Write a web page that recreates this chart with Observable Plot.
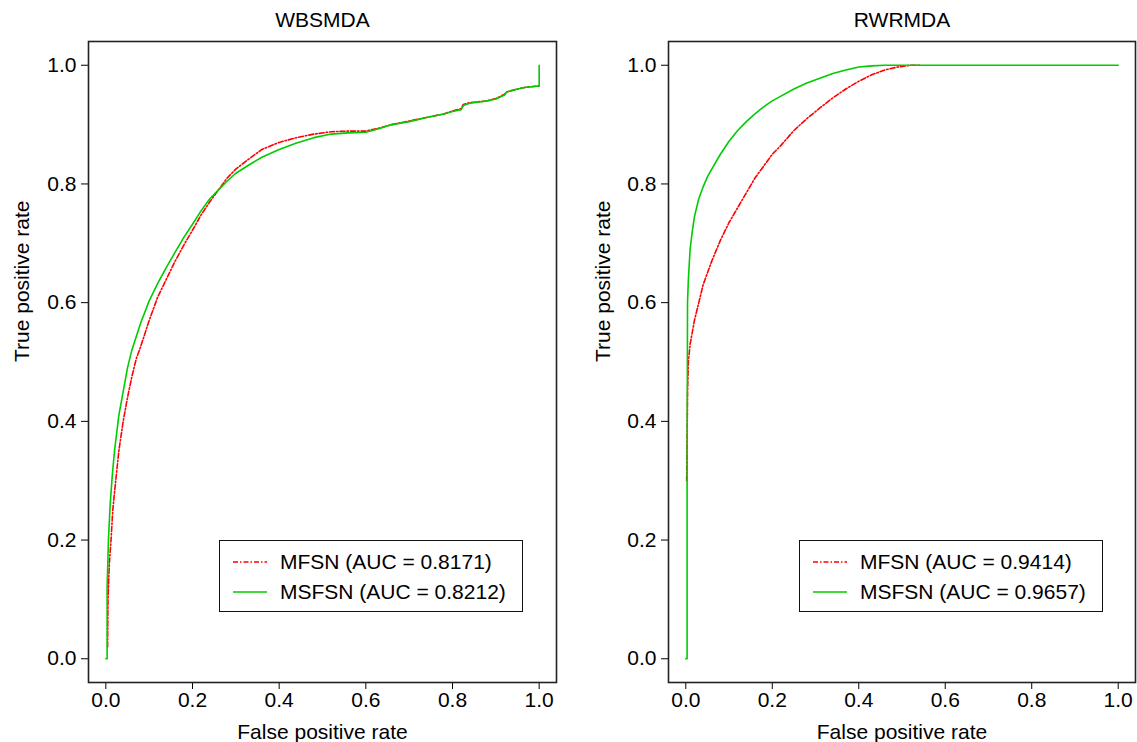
<!DOCTYPE html>
<html><head><meta charset="utf-8">
<script src="https://cdn.jsdelivr.net/npm/d3@7"></script>
<script src="https://cdn.jsdelivr.net/npm/@observablehq/plot@0.6"></script>
<style>
body{margin:0;background:#fff;font-family:"Liberation Sans",Arial,sans-serif}
#wrap{position:relative;width:1137px;height:742px;display:flex;overflow:hidden}
.legend{position:absolute;box-sizing:border-box;border:1.5px solid #111;background:#fff;font-size:21px;color:#000}
.legend .row{position:absolute;left:0;height:30px;line-height:30px;white-space:nowrap}
.legend svg{position:absolute;left:12px;top:0}
.legend span{position:absolute;left:60px;top:0}
</style></head><body><div id="wrap"></div><script>
// ---------- data ----------
const panelTitles = ["WBSMDA", "RWRMDA"];
const seriesNames = ["MFSN", "MSFSN"];
const aucWB = [0.8171, 0.8212];
const aucRWR = [0.9414, 0.9657];
const xTicks = [0, 0.2, 0.4, 0.6, 0.8, 1.0];
const yTicks = [0, 0.2, 0.4, 0.6, 0.8, 1.0];

// WBSMDA, MFSN
const wbFprMFSN = [0.004,0.005,0.008,0.012,0.016,0.02,0.03,0.04,0.05,0.06,0.07,0.08,0.1,0.12,0.14,0.16,0.18,0.2,0.22,0.24,0.26,0.28,0.3,0.33,0.36,0.4,0.44,0.48,0.52,0.56,0.6,0.63,0.66,0.7,0.74,0.78,0.8,0.82,0.825,0.84,0.88,0.9,0.92,0.925,0.95,0.97,0.998,1];
const wbTprMFSN = [0.02,0.1,0.16,0.2,0.25,0.28,0.35,0.4,0.44,0.475,0.505,0.525,0.57,0.61,0.64,0.67,0.697,0.722,0.748,0.77,0.79,0.81,0.825,0.842,0.858,0.87,0.878,0.884,0.888,0.889,0.889,0.894,0.9,0.906,0.912,0.918,0.923,0.927,0.934,0.937,0.94,0.944,0.951,0.955,0.96,0.963,0.965,0.965];
// WBSMDA, MSFSN
const wbFprMSFSN = [0,0.003,0.003,0.006,0.01,0.015,0.02,0.03,0.04,0.05,0.06,0.08,0.1,0.12,0.14,0.16,0.18,0.2,0.22,0.24,0.26,0.28,0.3,0.33,0.36,0.4,0.44,0.48,0.52,0.56,0.6,0.63,0.66,0.7,0.74,0.78,0.8,0.82,0.825,0.84,0.88,0.9,0.92,0.925,0.95,0.97,0.998,1,1];
const wbTprMSFSN = [0,0,0.12,0.2,0.26,0.31,0.35,0.41,0.45,0.49,0.52,0.565,0.603,0.633,0.66,0.685,0.71,0.732,0.755,0.775,0.79,0.805,0.818,0.832,0.845,0.858,0.869,0.878,0.884,0.886,0.887,0.893,0.9,0.905,0.912,0.918,0.922,0.925,0.932,0.936,0.94,0.943,0.95,0.955,0.96,0.963,0.965,0.965,1];
// RWRMDA, MFSN
const rwFprMFSN = [0.002,0.003,0.004,0.006,0.01,0.015,0.02,0.03,0.04,0.05,0.06,0.08,0.1,0.12,0.14,0.16,0.18,0.2,0.22,0.25,0.28,0.31,0.34,0.37,0.4,0.43,0.46,0.49,0.52,0.54];
const rwTprMFSN = [0.3,0.37,0.45,0.5,0.53,0.55,0.57,0.6,0.63,0.65,0.67,0.705,0.735,0.76,0.785,0.81,0.83,0.85,0.865,0.89,0.91,0.928,0.945,0.96,0.973,0.984,0.992,0.997,1,1];
// RWRMDA, MSFSN
const rwFprMSFSN = [0,0.003,0.003,0.004,0.006,0.01,0.015,0.02,0.03,0.04,0.05,0.06,0.08,0.1,0.12,0.14,0.16,0.18,0.2,0.22,0.25,0.28,0.31,0.34,0.37,0.4,0.43,0.46,1];
const rwTprMSFSN = [0,0,0.3,0.6,0.64,0.69,0.72,0.745,0.775,0.795,0.812,0.825,0.85,0.872,0.89,0.905,0.918,0.93,0.94,0.948,0.96,0.97,0.978,0.986,0.992,0.997,0.999,1,1];

const colors = ["#FF0000", "#00CC00"];
const dashes = ["5,2,1.5,2", null];

// ---------- drawing ----------
const font = '"Liberation Sans", Arial, sans-serif';
const FS = 21;
const wrap = document.getElementById("wrap");

function toRows(xs, ys) { return xs.map((x, i) => ({x, y: ys[i]})); }

function panel({title, series, width, marginLeft, marginRight, yLabelDx}) {
  const marks = [
    Plot.axisX({ticks: xTicks, tickFormat: d3.format(".1f"), tickSize: 7, tickPadding: 3, label: null, fontSize: FS}),
    Plot.axisY({ticks: yTicks, tickFormat: d3.format(".1f"), tickSize: 7, tickPadding: 5, label: null, fontSize: FS}),
  ];
  series.forEach((s, i) => {
    marks.push(Plot.line(s, {x: "x", y: "y", stroke: colors[i], strokeWidth: 1.6,
      strokeDasharray: dashes[i] || undefined}));
  });
  marks.push(Plot.frame({stroke: "#222", strokeWidth: 1.6}));
  marks.push(Plot.text([title], {frameAnchor: "top", lineAnchor: "middle", dy: -21, fontSize: FS}));
  marks.push(Plot.text(["False positive rate"], {frameAnchor: "bottom", lineAnchor: "middle", dy: 50, fontSize: FS}));
  marks.push(Plot.text(["True positive rate"], {frameAnchor: "left", dx: yLabelDx, rotate: -90, fontSize: FS}));
  return Plot.plot({
    width, height: 742, marginLeft, marginRight, marginTop: 41, marginBottom: 60,
    style: {fontFamily: font, fontSize: FS + "px", color: "#000", background: "#fff", overflow: "visible"},
    x: {domain: [-0.04, 1.04]},
    y: {domain: [-0.04, 1.04]},
    marks
  });
}

const p1 = panel({
  title: panelTitles[0],
  series: [toRows(wbFprMFSN, wbTprMFSN), toRows(wbFprMSFSN, wbTprMSFSN)],
  width: 568, marginLeft: 88, marginRight: 12, yLabelDx: -66
});
const p2 = panel({
  title: panelTitles[1],
  series: [toRows(rwFprMFSN, rwTprMFSN), toRows(rwFprMSFSN, rwTprMSFSN)],
  width: 569, marginLeft: 100, marginRight: 2, yLabelDx: -65
});
wrap.appendChild(p1);
wrap.appendChild(p2);

function legend(left, aucs) {
  const box = document.createElement("div");
  box.className = "legend";
  box.style.left = left + "px";
  box.style.top = "540px";
  box.style.width = "304px";
  box.style.height = "72px";
  seriesNames.forEach((name, i) => {
    const row = document.createElement("div");
    row.className = "row";
    row.style.top = (6 + i * 30) + "px";
    row.style.width = "100%";
    const dash = dashes[i] ? `stroke-dasharray="${dashes[i]}"` : "";
    row.innerHTML = `<svg width="36" height="30"><line x1="1" x2="35" y1="15" y2="15" stroke="${colors[i]}" stroke-width="1.6" ${dash}/></svg><span>${name} (AUC = ${aucs[i].toFixed(4)})</span>`;
    box.appendChild(row);
  });
  wrap.appendChild(box);
}
legend(219, aucWB);
legend(799, aucRWR);
</script></body></html>
